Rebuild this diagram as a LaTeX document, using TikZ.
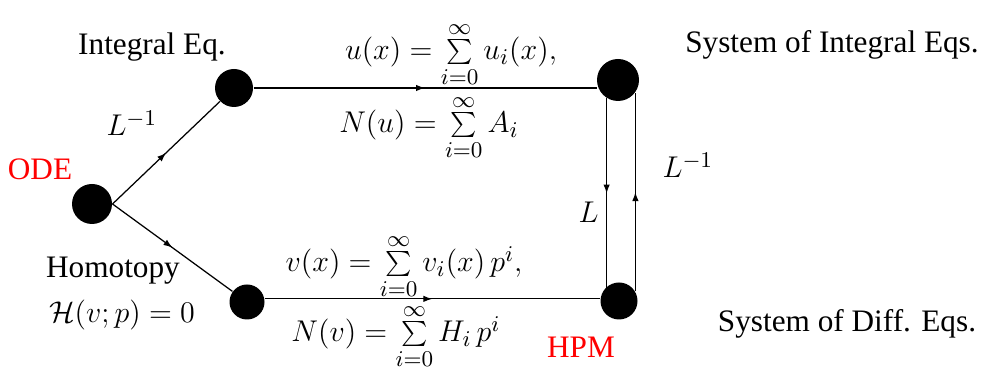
\documentclass[tikz,border=0pt]{standalone}
\usepackage{fontspec}
\setmainfont{Liberation Serif}
\newfontfamily\diagfont{Liberation Serif}
\usetikzlibrary{arrows.meta, decorations.markings}
\definecolor{labelred}{RGB}{255,0,0}
\def\lineStroke{0.5pt}

\tikzset{
  dot/.style={circle, fill=black, inner sep=0pt, minimum size=#1},
  flow/.style={draw=black, line width=\lineStroke, postaction={decorate},
    decoration={markings, mark=at position 0.5 with {\arrow{Latex[length=3.6pt,width=2.6pt]}}}},
}

\begin{document}
\begin{tikzpicture}[x=0.4pt, y=-0.4pt, every node/.style={font=\diagfont\fontsize{12.5}{15}\selectfont, inner sep=0pt}]
\useasboundingbox (0,0) rectangle (984,370);

% Points of the scheme
\node[dot=16pt]   (ode)    at (92,204)  {};
\node[dot=15.2pt] (inteq)  at (234,88)  {};
\node[dot=14pt]   (homot)  at (247,302) {};
\node[dot=16.8pt] (sysint) at (618,80)  {};
\node[dot=14.8pt] (hpm)    at (619,301) {};

% Connectors
\draw[flow] (ode.east) -- (inteq);
\draw[flow] (ode.east) -- (homot);
\draw[flow] (inteq.east) -- (inteq.east -| sysint.west);
\draw[flow] (homot.10) -- (homot.10 -| hpm.west);
\draw[flow] (sysint.-122) -- (sysint.-122 |- hpm.140);
\draw[flow] (sysint.-36 |- hpm.30) -- (sysint.-36);

% Left labels
\node[anchor=base] (lblint) at (152,55) {Integral Eq.};
\node[anchor=base west] (lblinvl) at (106,136) {$L^{-1}$};
\node[anchor=base, text=labelred] (lblode) at (40,180) {ODE};
\node[anchor=base] (lblhom) at (113,278) {Homotopy};
\node[anchor=base] (lblhomeq) at (122,323) {$\mathcal{H}(v;p)=0$};

% Series labels
\node[anchor=base] (lblu) at (451,60) {$u(x)=\sum\limits_{i=0}^{\infty}u_i(x),$};
\node[anchor=base] (lblnu) at (429,133) {$N(u)=\sum\limits_{i=0}^{\infty}A_i$};
\node[anchor=base] (lblv) at (404,272) {$v(x)=\sum\limits_{i=0}^{\infty}v_i(x)\,p^i,$};
\node[anchor=base] (lblnv) at (396,342) {$N(v)=\sum\limits_{i=0}^{\infty}H_i\,p^i$};

% Right labels
\node[anchor=base] (lblsysint) at (832,53) {System of Integral Eqs.};
\node[anchor=base west] (lblinvr) at (662,178) {$L^{-1}$};
\node[anchor=base west] (lbll) at (578,223) {$L$};
\node[anchor=base, text=labelred] (lblhpm) at (581,358) {HPM};
\node[anchor=base] (lblsysdiff) at (847,332) {System of Diff. Eqs.};

\end{tikzpicture}
\end{document}
